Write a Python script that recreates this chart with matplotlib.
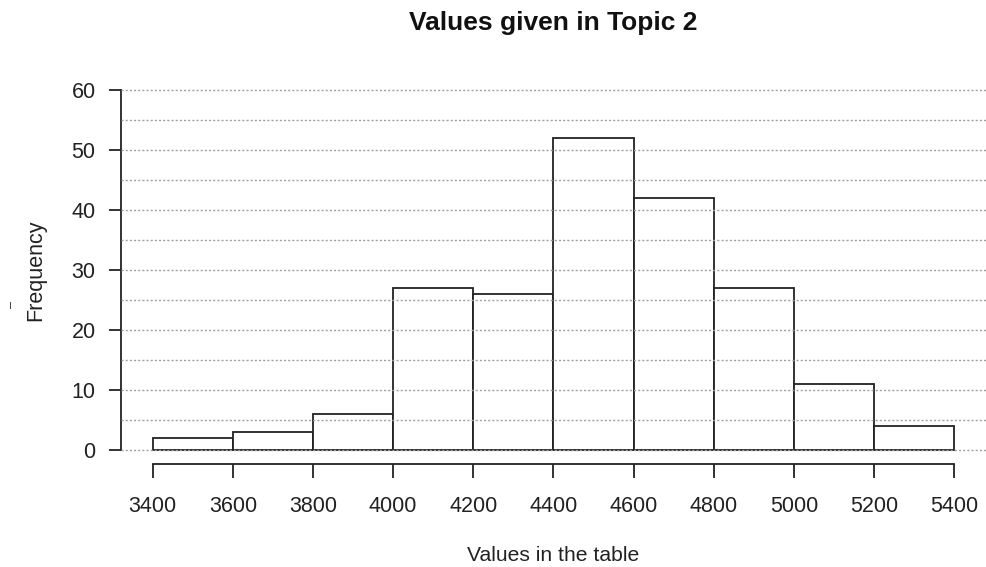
import matplotlib

matplotlib.use("Agg")
import matplotlib.pyplot as plt

plt.rcParams["font.family"] = ["Liberation Sans", "DejaVu Sans"]

# histogram bins and counts
bin_edges = [3400, 3600, 3800, 4000, 4200, 4400, 4600, 4800, 5000, 5200, 5400]
counts = [2, 3, 6, 27, 26, 52, 42, 27, 11, 4]
x_ticks = [3400, 3600, 3800, 4000, 4200, 4400, 4600, 4800, 5000, 5200, 5400]
y_ticks = [0, 10, 20, 30, 40, 50, 60]
grid_levels = list(range(0, 61, 5))

fig = plt.figure(figsize=(9.86, 5.67), dpi=100)
ax = fig.add_axes([0.1223, 0.181, 0.878, 0.6857])

widths = [b - a for a, b in zip(bin_edges[:-1], bin_edges[1:])]
ax.bar(bin_edges[:-1], counts, width=widths, align="edge",
       facecolor="white", edgecolor="#222222", linewidth=1.3, zorder=2)

for lvl in grid_levels:
    ax.axhline(lvl, color="#a0a0a0", linestyle=(0, (1.5, 1.5)), linewidth=1.0, zorder=3)

ax.set_xlim(3320, 5480)
ax.set_ylim(-2.4, 62.4)

for side in ("top", "right"):
    ax.spines[side].set_visible(False)
ax.spines["left"].set_bounds(0, 60)
ax.spines["bottom"].set_bounds(3400, 5400)
for side in ("left", "bottom"):
    ax.spines[side].set_linewidth(1.3)
    ax.spines[side].set_color("#222222")

ax.set_xticks(x_ticks)
ax.set_yticks(y_ticks)
ax.tick_params(axis="x", length=10, width=1.3, color="#222222", pad=12.5,
               labelsize=15.5, labelcolor="#222222")
ax.tick_params(axis="y", length=9, width=1.3, color="#222222", pad=9,
               labelsize=15.5, labelcolor="#222222")

ax.set_title("Values given in Topic 2", fontsize=19, fontweight="bold",
             color="#111111", pad=33)
ax.set_xlabel("Values in the table", fontsize=15.2, color="#222222", labelpad=21)
ax.set_ylabel("Frequency", fontsize=15.5, color="#222222", labelpad=18)

# stray mark next to the y label in the source image
fig.text(12 / 986, 1 - 305 / 567, "\u2013", rotation=90, fontsize=9,
         color="#222222", ha="center", va="center")

fig.savefig("out.png", dpi=100)
